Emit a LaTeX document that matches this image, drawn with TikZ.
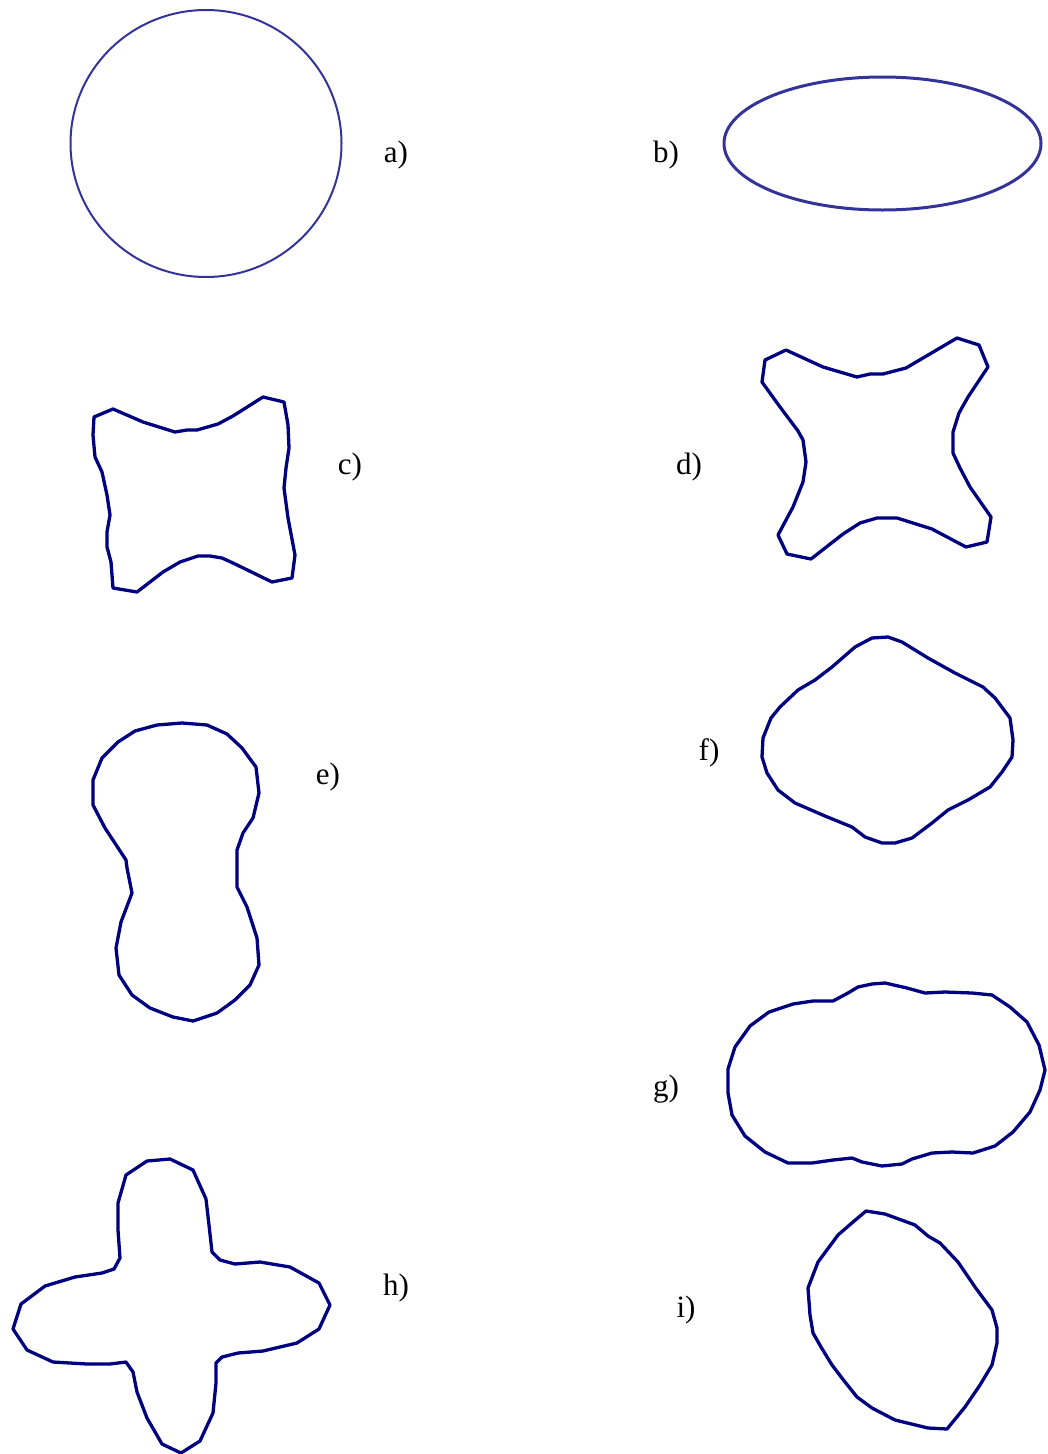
\documentclass[tikz,border=0pt]{standalone}
\usepackage{fontspec}
\setmainfont{Liberation Serif}
\definecolor{shapeblue}{HTML}{000080}
\definecolor{circblue}{HTML}{333399}
\begin{document}
\begin{tikzpicture}[x=1pt,y=-1pt,
  outline/.style={draw=shapeblue,line width=3.3pt,line join=round},
  lab/.style={font=\fontsize{31}{33}\selectfont,inner sep=0pt}]
\useasboundingbox (0,0) rectangle (1047,1454);
% a
\draw[draw=circblue,line width=2pt] (206,143.5) ellipse [x radius=135.5, y radius=133.5];
\node[lab] (la) at (396,155) {a)};
% b
\draw[draw=circblue,line width=3pt] (882.5,143.5) ellipse [x radius=158.5, y radius=66.5];
\node[lab] (lb) at (666,155) {b)};
% c
\draw[outline] (94,417) -- (113,409) -- (143,422) -- (175,432) -- (187,430) -- (197,430) -- (218,424) -- (233,416) -- (263,397) -- (284,402) -- (288,425) -- (289,448) -- (286,468) -- (284,488) -- (288,518) -- (295,555) -- (292,578) -- (272,582) -- (233,563) -- (222,558) -- (210,556) -- (198,556) -- (180,562) -- (163,572) -- (137,592) -- (113,588) -- (111,562) -- (107,547) -- (107,532) -- (110,515) -- (107,495) -- (102,472) -- (95,457) -- (93,435) -- cycle;
\node[lab] (lc) at (350,467) {c)};
% d
\draw[outline] (765,360) -- (786,350) -- (823,367) -- (857,377) -- (870,374) -- (883,374) -- (906,368) -- (923,358) -- (957,338) -- (979,345) -- (988,367) -- (968,397) -- (959,413) -- (953,432) -- (953,453) -- (960,468) -- (970,487) -- (991,517) -- (987,542) -- (966,547) -- (932,529) -- (897,518) -- (877,518) -- (860,523) -- (843,534) -- (811,559) -- (787,554) -- (778,535) -- (793,507) -- (803,482) -- (806,462) -- (803,440) -- (798,431) -- (780,407) -- (762,382) -- cycle;
\node[lab] (ld) at (689,467) {d)};
% e
\draw[outline] (182,723) -- (207,725) -- (227,734) -- (242,748) -- (256,767) -- (259,793) -- (253,818) -- (243,833) -- (237,850) -- (237,887) -- (247,907) -- (257,938) -- (259,965) -- (250,985) -- (235,1000) -- (217,1013) -- (193,1021) -- (173,1017) -- (150,1008) -- (132,995) -- (119,975) -- (116,948) -- (121,922) -- (132,893) -- (127,868) -- (126,860) -- (105,828) -- (93,805) -- (93,780) -- (102,758) -- (118,742) -- (135,731) -- (157,725) -- cycle;
\node[lab] (le) at (328,777) {e)};
% f
\draw[outline] (888,637) -- (902,642) -- (928,658) -- (955,673) -- (983,687) -- (995,698) -- (1010,718) -- (1013,740) -- (1012,757) -- (1002,772) -- (990,787) -- (968,800) -- (948,810) -- (932,823) -- (912,838) -- (895,843) -- (882,843) -- (865,837) -- (852,827) -- (825,816) -- (795,803) -- (778,790) -- (767,773) -- (762,757) -- (763,738) -- (771,718) -- (780,707) -- (798,690) -- (815,680) -- (832,667) -- (855,647) -- (872,638) -- cycle;
\node[lab] (lf) at (709,753) {f)};
% g
\draw[outline] (885,983) -- (872,984) -- (858,987) -- (848,993) -- (833,1001) -- (813,1001) -- (793,1004) -- (769,1012) -- (750,1026) -- (735,1047) -- (728,1069) -- (728,1093) -- (732,1115) -- (745,1136) -- (765,1152) -- (788,1163) -- (812,1163) -- (833,1160) -- (852,1158) -- (862,1162) -- (882,1166) -- (902,1164) -- (912,1159) -- (932,1153) -- (952,1152) -- (973,1153) -- (995,1146) -- (1013,1132) -- (1030,1112) -- (1040,1090) -- (1045,1070) -- (1039,1045) -- (1027,1022) -- (1010,1007) -- (992,995) -- (972,993) -- (945,992) -- (925,993) -- (907,988) -- cycle;
\node[lab] (lg) at (666,1089) {g)};
% h
\draw[outline] (147,1161) -- (170,1159) -- (193,1170) -- (206,1199) -- (209,1225) -- (212,1252) -- (220,1260) -- (235,1264) -- (260,1262) -- (290,1267) -- (319,1283) -- (330,1305) -- (319,1329) -- (297,1343) -- (263,1351) -- (238,1353) -- (222,1357) -- (216,1363) -- (216,1383) -- (213,1413) -- (200,1441) -- (181,1453) -- (162,1444) -- (147,1418) -- (137,1392) -- (133,1372) -- (126,1362) -- (110,1364) -- (87,1364) -- (53,1362) -- (27,1350) -- (13,1329) -- (21,1304) -- (45,1286) -- (75,1277) -- (102,1273) -- (114,1269) -- (120,1258) -- (118,1230) -- (118,1203) -- (126,1175) -- cycle;
\node[lab] (lh) at (396,1288) {h)};
% i
\draw[outline] (866,1211) -- (885,1214) -- (915,1225) -- (928,1236) -- (940,1243) -- (958,1262) -- (975,1287) -- (992,1310) -- (997,1328) -- (997,1343) -- (992,1365) -- (980,1385) -- (965,1407) -- (947,1429) -- (928,1428) -- (895,1420) -- (872,1408) -- (857,1397) -- (845,1382) -- (832,1365) -- (821,1347) -- (813,1333) -- (810,1315) -- (808,1288) -- (818,1262) -- (838,1235) -- (853,1222) -- cycle;
\node[lab] (li) at (686,1310) {i)};
\end{tikzpicture}
\end{document}
